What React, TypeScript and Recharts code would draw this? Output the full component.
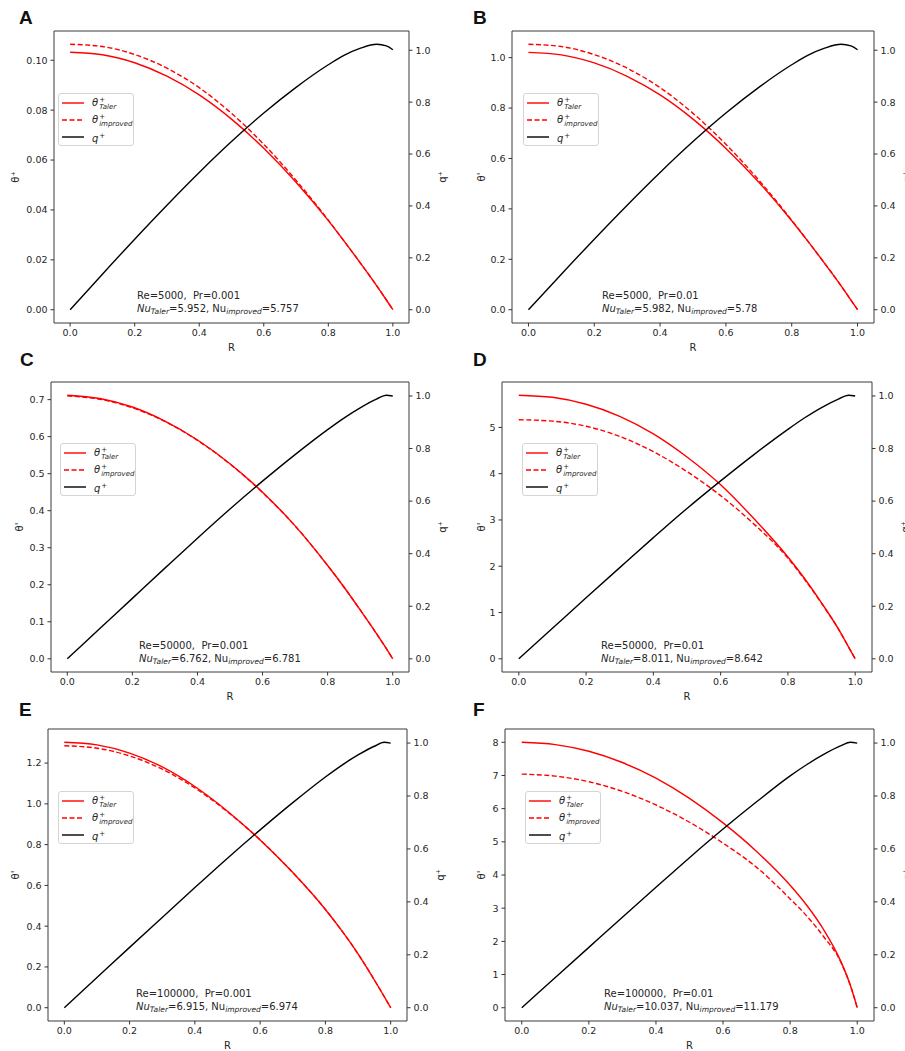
import React from 'react';
import { LineChart, Line, XAxis, YAxis, ReferenceArea, Legend } from 'recharts';

const FONT = "'DejaVu Sans', sans-serif";
const INK = '#262626';

// radial position, shared by every panel
const R = [0, 0.1, 0.2, 0.3, 0.4, 0.5, 0.6, 0.7, 0.8, 0.85, 0.9, 0.95, 0.98, 1.0];
const xTicks = [0, 0.2, 0.4, 0.6, 0.8, 1.0];
const qTicks = [0, 0.2, 0.4, 0.6, 0.8, 1.0];

// A: Re=5000, Pr=0.001
const thetaTalerA = [0.1032, 0.1022, 0.099, 0.0936, 0.0861, 0.0764, 0.0647, 0.0511, 0.0357, 0.0273, 0.0186, 0.0096, 0.0039, 0];
const thetaImprovedA = [0.1064, 0.1055, 0.1023, 0.0968, 0.089, 0.0787, 0.0663, 0.0519, 0.0359, 0.0273, 0.0186, 0.0096, 0.0039, 0];
const qA = [0, 0.137, 0.272, 0.403, 0.529, 0.648, 0.758, 0.857, 0.944, 0.981, 1.008, 1.023, 1.017, 1.002];
const thetaTicksA = [0, 0.02, 0.04, 0.06, 0.08, 0.1];

// B: Re=5000, Pr=0.01
const thetaTalerB = [1.021, 1.011, 0.979, 0.926, 0.852, 0.756, 0.64, 0.506, 0.353, 0.27, 0.184, 0.095, 0.038, 0];
const thetaImprovedB = [1.053, 1.044, 1.012, 0.958, 0.881, 0.779, 0.656, 0.514, 0.355, 0.27, 0.184, 0.095, 0.038, 0];
const qB = [0, 0.137, 0.272, 0.403, 0.529, 0.648, 0.758, 0.857, 0.944, 0.981, 1.008, 1.023, 1.017, 1.002];
const thetaTicksB = [0, 0.2, 0.4, 0.6, 0.8, 1.0];

// C: Re=50000, Pr=0.001
const thetaTalerC = [0.712, 0.703, 0.68, 0.642, 0.591, 0.527, 0.45, 0.359, 0.252, 0.194, 0.132, 0.068, 0.028, 0];
const thetaImprovedC = [0.71, 0.701, 0.678, 0.641, 0.59, 0.526, 0.449, 0.359, 0.252, 0.194, 0.132, 0.068, 0.028, 0];
const qC = [0, 0.115, 0.23, 0.345, 0.459, 0.57, 0.676, 0.777, 0.872, 0.916, 0.955, 0.988, 1.003, 1.0];
const thetaTicksC = [0, 0.1, 0.2, 0.3, 0.4, 0.5, 0.6, 0.7];

// D: Re=50000, Pr=0.01
const thetaTalerD = [5.696, 5.65, 5.5, 5.24, 4.86, 4.36, 3.76, 3.02, 2.2, 1.73, 1.21, 0.645, 0.26, 0];
const thetaImprovedD = [5.165, 5.135, 5.025, 4.805, 4.475, 4.045, 3.525, 2.905, 2.175, 1.71, 1.2, 0.645, 0.26, 0];
const qD = [0, 0.116, 0.232, 0.347, 0.461, 0.572, 0.677, 0.778, 0.873, 0.917, 0.956, 0.988, 1.003, 1.0];
const thetaTicksD = [0, 1, 2, 3, 4, 5];

// E: Re=100000, Pr=0.001
const thetaTalerE = [1.302, 1.289, 1.249, 1.181, 1.085, 0.964, 0.823, 0.663, 0.482, 0.378, 0.264, 0.136, 0.055, 0];
const thetaImprovedE = [1.285, 1.273, 1.235, 1.17, 1.078, 0.961, 0.823, 0.663, 0.482, 0.378, 0.264, 0.136, 0.055, 0];
const qE = [0, 0.114, 0.228, 0.341, 0.454, 0.565, 0.672, 0.775, 0.872, 0.916, 0.955, 0.988, 1.003, 1.0];
const thetaTicksE = [0, 0.2, 0.4, 0.6, 0.8, 1.0, 1.2];

// F: Re=100000, Pr=0.01
const thetaTalerF = [8.0, 7.93, 7.73, 7.39, 6.92, 6.31, 5.57, 4.71, 3.69, 3.08, 2.35, 1.42, 0.66, 0];
const thetaImprovedF = [7.04, 6.98, 6.81, 6.52, 6.11, 5.59, 4.96, 4.23, 3.28, 2.76, 2.14, 1.4, 0.66, 0];
const qF = [0, 0.114, 0.228, 0.342, 0.455, 0.567, 0.675, 0.778, 0.876, 0.919, 0.957, 0.989, 1.003, 1.0];
const thetaTicksF = [0, 1, 2, 3, 4, 5, 6, 7, 8];

const panels = [
  {
    id: 'A', re: '5000', pr: '0.001', nuT: '5.952', nuI: '5.757', yTitle: 'θ⁺',
    taler: thetaTalerA, improved: thetaImprovedA, q: qA, ticks: thetaTicksA, digits: 2,
    box: { x: 0, y: 0, w: 452, h: 356 }, frame: { l: 54, t: 31, r: 409, b: 323 },
    letter: { x: 19, y: 8 }, legend: { x: 58, y: 93 }, note: { x: 137, y: 290 }, yGap: 39,
  },
  {
    id: 'B', re: '5000', pr: '0.01', nuT: '5.982', nuI: '5.78', yTitle: "θ'",
    taler: thetaTalerB, improved: thetaImprovedB, q: qB, ticks: thetaTicksB, digits: 1,
    box: { x: 452, y: 0, w: 470, h: 356 }, frame: { l: 512, t: 31, r: 874, b: 323 },
    letter: { x: 473, y: 8 }, legend: { x: 523, y: 93 }, note: { x: 602, y: 290 }, yGap: 31,
  },
  {
    id: 'C', re: '50000', pr: '0.001', nuT: '6.762', nuI: '6.781', yTitle: "θ'",
    taler: thetaTalerC, improved: thetaImprovedC, q: qC, ticks: thetaTicksC, digits: 1,
    box: { x: 0, y: 356, w: 452, h: 350 }, frame: { l: 51, t: 382, r: 409, b: 672 },
    letter: { x: 20, y: 350 }, legend: { x: 60, y: 443 }, note: { x: 139, y: 640 }, yGap: 32,
  },
  {
    id: 'D', re: '50000', pr: '0.01', nuT: '8.011', nuI: '8.642', yTitle: "θ'",
    taler: thetaTalerD, improved: thetaImprovedD, q: qD, ticks: thetaTicksD, digits: 0,
    box: { x: 452, y: 356, w: 470, h: 350 }, frame: { l: 502, t: 382, r: 872, b: 672 },
    letter: { x: 473, y: 350 }, legend: { x: 522, y: 443 }, note: { x: 601, y: 640 }, yGap: 21,
  },
  {
    id: 'E', re: '100000', pr: '0.001', nuT: '6.915', nuI: '6.974', yTitle: "θ'",
    taler: thetaTalerE, improved: thetaImprovedE, q: qE, ticks: thetaTicksE, digits: 1,
    box: { x: 0, y: 706, w: 452, h: 345 }, frame: { l: 48, t: 729, r: 407, b: 1021 },
    letter: { x: 19, y: 700 }, legend: { x: 58, y: 791 }, note: { x: 136, y: 988 }, yGap: 33,
  },
  {
    id: 'F', re: '100000', pr: '0.01', nuT: '10.037', nuI: '11.179', yTitle: "θ'",
    taler: thetaTalerF, improved: thetaImprovedF, q: qF, ticks: thetaTicksF, digits: 0,
    box: { x: 452, y: 706, w: 470, h: 345 }, frame: { l: 505, t: 729, r: 874, b: 1021 },
    letter: { x: 473, y: 700 }, legend: { x: 525, y: 791 }, note: { x: 604, y: 988 }, yGap: 24,
  },
];

const AXL = 46;
const AXR = 40;
const XH = 30;

const Theta = ({ sub }: { sub: string }) => (
  <span style={{ display: 'inline-flex', alignItems: 'center' }}>
    <span style={{ fontStyle: 'italic', fontSize: 10 }}>θ</span>
    <span style={{ display: 'inline-flex', flexDirection: 'column', fontSize: 7, lineHeight: '7px', marginLeft: 1, marginTop: 2 }}>
      <span>+</span>
      <span style={{ fontStyle: 'italic' }}>{sub}</span>
    </span>
  </span>
);

const LegendBox = () => {
  const rows = [
    { dash: undefined, color: '#ff0000', label: <Theta sub="Taler" /> },
    { dash: '5 2.5', color: '#ff0000', label: <Theta sub="improved" /> },
    {
      dash: undefined, color: '#000000',
      label: (
        <span>
          <span style={{ fontStyle: 'italic', fontSize: 10 }}>q</span>
          <span style={{ fontSize: 7, position: 'relative', top: -4, marginLeft: 1 }}>+</span>
        </span>
      ),
    },
  ];
  return (
    <div style={{
      width: 76, height: 53, boxSizing: 'border-box', border: '1px solid #d4d4d4', borderRadius: 3,
      background: 'rgba(255,255,255,0.85)', fontFamily: FONT, color: INK,
    }}>
      {rows.map((row, i) => (
        <div key={i} style={{ height: 17, display: 'flex', alignItems: 'center', paddingLeft: 3 }}>
          <svg width={22} height={4} style={{ marginRight: 8 }}>
            <line x1={0} y1={2} x2={22} y2={2} stroke={row.color} strokeWidth={1.4} strokeDasharray={row.dash} />
          </svg>
          {row.label}
        </div>
      ))}
    </div>
  );
};

const Panel = ({ p }: { p: typeof panels[number] }) => {
  const { box, frame } = p;
  const data = R.map((r, i) => ({ r, taler: p.taler[i], improved: p.improved[i], q: p.q[i] }));
  const tMax = Math.max(...p.taler, ...p.improved);
  const qMax = Math.max(...p.q);
  const leftDom = [-0.05 * tMax, 1.05 * tMax];
  const rightDom = [-0.05 * qMax, 1.05 * qMax];
  const margin = {
    top: frame.t - box.y,
    left: frame.l - box.x - AXL,
    right: box.x + box.w - frame.r - AXR,
    bottom: box.y + box.h - frame.b - XH,
  };
  const tick = { fontSize: 9.5, fill: INK, fontFamily: FONT };
  const titleStyle = { fontSize: 10, fill: INK, fontFamily: FONT, textAnchor: 'middle' as const };

  return (
    <div style={{ position: 'absolute', left: box.x, top: box.y }}>
      <LineChart width={box.w} height={box.h} data={data} margin={margin}>
        <XAxis
          dataKey="r" type="number" domain={[-0.05, 1.05]} ticks={xTicks}
          tickFormatter={(v: number) => v.toFixed(1)} height={XH} tick={tick}
          tickSize={3.5} tickMargin={3} axisLine={false} stroke="#333"
          label={{ value: 'R', position: 'insideBottom', offset: 2, style: titleStyle }}
        />
        <YAxis
          yAxisId="left" orientation="left" type="number" domain={leftDom} ticks={p.ticks}
          tickFormatter={(v: number) => v.toFixed(p.digits)} width={AXL} tick={tick}
          tickSize={3.5} tickMargin={3} axisLine={false} stroke="#333"
          label={{ value: p.yTitle, angle: -90, position: 'insideLeft', offset: AXL - p.yGap, style: titleStyle }}
        />
        <YAxis
          yAxisId="right" orientation="right" type="number" domain={rightDom} ticks={qTicks}
          tickFormatter={(v: number) => v.toFixed(1)} width={AXR} tick={tick}
          tickSize={3.5} tickMargin={3} axisLine={false} stroke="#333"
          label={{ value: 'q⁺', angle: -90, position: 'insideRight', offset: AXR - 33, style: titleStyle }}
        />
        <ReferenceArea
          yAxisId="left" x1={-0.05} x2={1.05} y1={leftDom[0]} y2={leftDom[1]}
          fill="none" stroke="#3a3a3a" strokeWidth={1} ifOverflow="visible"
        />
        <Line yAxisId="left" type="monotone" dataKey="taler" stroke="#ff0000" strokeWidth={1.4} dot={false} activeDot={false} isAnimationActive={false} />
        <Line yAxisId="left" type="monotone" dataKey="improved" stroke="#ff0000" strokeWidth={1.4} strokeDasharray="5 2.5" dot={false} activeDot={false} isAnimationActive={false} />
        <Line yAxisId="right" type="monotone" dataKey="q" stroke="#000000" strokeWidth={1.4} dot={false} activeDot={false} isAnimationActive={false} />
        <Legend
          layout="vertical" align="center" verticalAlign="middle"
          wrapperStyle={{ left: p.legend.x - box.x, top: p.legend.y - box.y, width: 76, height: 53 }}
          content={() => <LegendBox />}
        />
      </LineChart>
    </div>
  );
};

const Note = ({ p }: { p: typeof panels[number] }) => {
  const sub = { fontStyle: 'italic' as const, fontSize: 7.5, position: 'relative' as const, top: 2 };
  return (
    <div style={{
      position: 'absolute', left: p.note.x, top: p.note.y, fontFamily: FONT, fontSize: 10,
      lineHeight: '12.5px', color: INK, whiteSpace: 'pre',
    }}>
      <div>{`Re=${p.re},  Pr=${p.pr}`}</div>
      <div>
        <span style={{ fontStyle: 'italic' }}>Nu</span><span style={sub}>Taler</span>
        {`=${p.nuT}, Nu`}<span style={sub}>improved</span>{`=${p.nuI}`}
      </div>
    </div>
  );
};

export default function App() {
  return (
    <div style={{ position: 'absolute', left: 0, top: 0, width: 905, height: 1051, overflow: 'hidden', background: '#ffffff' }}>
      {panels.map((p) => (
        <Panel key={p.id} p={p} />
      ))}
      {panels.map((p) => (
        <React.Fragment key={`t-${p.id}`}>
          <div style={{
            position: 'absolute', left: p.letter.x, top: p.letter.y, fontFamily: "'Liberation Sans', Arial, sans-serif",
            fontWeight: 700, fontSize: 19, lineHeight: '19px', color: '#111',
          }}>
            {p.id}
          </div>
          <Note p={p} />
        </React.Fragment>
      ))}
    </div>
  );
}
